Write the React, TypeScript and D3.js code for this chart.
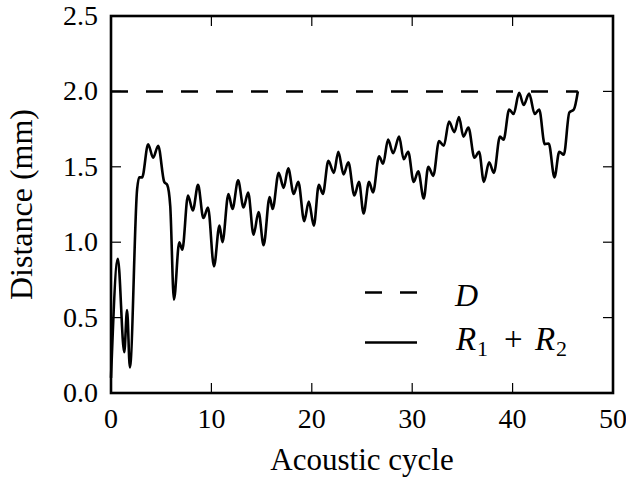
import * as React from "react"
import * as d3 from "d3"

const W = 626
const H = 479
const M = { left: 111, right: 13, top: 16, bottom: 86 }

const xTicks = [0, 10, 20, 30, 40, 50]
const yTicks = [0.0, 0.5, 1.0, 1.5, 2.0, 2.5]

const D_VALUE = 2.0
const D_RANGE = [0, 46.5]

// R1 + R2
const cycle = [
  0, 0.68, 1.32, 1.6, 1.88, 2.6, 2.8, 3.1, 3.7, 4.2, 4.7, 5.3, 5.6, 5.9, 6.27, 6.8, 7.1,
  7.67, 8.15, 8.67, 9.2, 9.66, 10.26, 10.8, 11.1, 11.7, 12.1, 12.66, 13.2, 13.66, 14.2,
  14.7, 15.2, 15.8, 16.1, 16.7, 17.2, 17.65, 18.2, 18.65, 19.25, 19.7, 20.2, 20.7, 21.1,
  21.65, 22.2, 22.64, 23.16, 23.64, 24.24, 24.7, 25.16, 25.7, 26.1, 26.7, 27.1, 27.6,
  28.1, 28.7, 29.15, 29.6, 30.15, 30.6, 31.15, 31.6, 32.1, 32.67, 33.15, 33.67, 34.2,
  34.66, 35.1, 35.6, 36.2, 36.66, 37.14, 37.66, 38.14, 38.74, 39.1, 39.66, 40.1, 40.65,
  41.1, 41.65, 42.2, 42.65, 43.2, 43.6, 44.17, 44.65, 45.1, 45.65, 46.1, 46.5,
]
const distance = [
  0.1, 0.89, 0.27, 0.55, 0.17, 1.35, 1.43, 1.43, 1.65, 1.56, 1.64, 1.4, 1.38, 1.24, 0.62,
  1.0, 0.95, 1.31, 1.21, 1.38, 1.16, 1.23, 0.84, 1.11, 1.0, 1.32, 1.22, 1.41, 1.23, 1.33,
  1.05, 1.2, 0.98, 1.3, 1.22, 1.46, 1.36, 1.49, 1.32, 1.4, 1.14, 1.27, 1.11, 1.38, 1.32,
  1.54, 1.46, 1.6, 1.45, 1.53, 1.31, 1.4, 1.19, 1.4, 1.33, 1.57, 1.52, 1.68, 1.59, 1.7,
  1.55, 1.6, 1.4, 1.47, 1.29, 1.5, 1.44, 1.67, 1.64, 1.8, 1.73, 1.83, 1.7, 1.76, 1.56,
  1.6, 1.4, 1.53, 1.46, 1.7, 1.68, 1.88, 1.85, 1.99, 1.91, 1.985, 1.85, 1.88, 1.65,
  1.655, 1.43, 1.6, 1.58, 1.86, 1.88, 2.0,
]

const FONT = "'Liberation Serif', 'DejaVu Serif', serif"
const DASH = "17 18"

export default function App() {
  const x = d3.scaleLinear().domain([0, 50]).range([M.left, W - M.right])
  const y = d3.scaleLinear().domain([0, 2.5]).range([H - M.bottom, M.top])

  const pts: [number, number][] = cycle.map((c, i) => [c, distance[i]])
  const line = d3
    .line<[number, number]>()
    .x(d => x(d[0]))
    .y(d => y(d[1]))
    .curve(d3.curveMonotoneX)

  const x0 = x(0)
  const x1 = x(50)
  const y0 = y(0)
  const y1 = y(2.5)
  const tick = 10

  return (
    <svg
      width={W}
      height={H}
      style={{ position: "absolute", left: 0, top: 0, background: "#fff" }}
      fontFamily={FONT}
    >
      <path
        d={line([[D_RANGE[0], D_VALUE], [D_RANGE[1], D_VALUE]]) || ""}
        fill="none"
        stroke="#000"
        strokeWidth={2.5}
        strokeDasharray={DASH}
      />
      <path d={line(pts) || ""} fill="none" stroke="#000" strokeWidth={2.6} strokeLinejoin="round" />

      {xTicks.map(t => (
        <g key={"x" + t}>
          <line x1={x(t)} x2={x(t)} y1={y0} y2={y0 - tick} stroke="#000" strokeWidth={1.2} />
          <line x1={x(t)} x2={x(t)} y1={y1} y2={y1 + tick} stroke="#000" strokeWidth={1.2} />
          <text x={x(t)} y={428} textAnchor="middle" fontSize={28}>
            {t}
          </text>
        </g>
      ))}
      {yTicks.map(t => (
        <g key={"y" + t}>
          <line x1={x0} x2={x0 + tick} y1={y(t)} y2={y(t)} stroke="#000" strokeWidth={1.2} />
          <line x1={x1} x2={x1 - tick} y1={y(t)} y2={y(t)} stroke="#000" strokeWidth={1.2} />
          <text x={x0 - 13} y={y(t) + 9} textAnchor="end" fontSize={28}>
            {t.toFixed(1)}
          </text>
        </g>
      ))}

      <rect x={x0} y={y1} width={x1 - x0} height={y0 - y1} fill="none" stroke="#000" strokeWidth={2.6} />

      <text x={(x0 + x1) / 2} y={470} textAnchor="middle" fontSize={31}>
        Acoustic cycle
      </text>
      <text
        transform={`translate(32,${(y0 + y1) / 2}) rotate(-90)`}
        textAnchor="middle"
        fontSize={32}
      >
        Distance (mm)
      </text>

      <g>
        <line x1={365} x2={417} y1={292.5} y2={292.5} stroke="#000" strokeWidth={2.5} strokeDasharray={DASH} />
        <text x={455} y={306} fontSize={32} fontStyle="italic">
          D
        </text>
        <line x1={365} x2={417} y1={342.5} y2={342.5} stroke="#000" strokeWidth={2.5} />
        <text y={350} fontSize={33}>
          <tspan x={456} fontStyle="italic">R</tspan>
          <tspan x={477} fontSize={22} dy={6}>1</tspan>
          <tspan x={504} dy={-6}>+</tspan>
          <tspan x={535} fontStyle="italic">R</tspan>
          <tspan x={556} fontSize={22} dy={6}>2</tspan>
        </text>
      </g>
    </svg>
  )
}
